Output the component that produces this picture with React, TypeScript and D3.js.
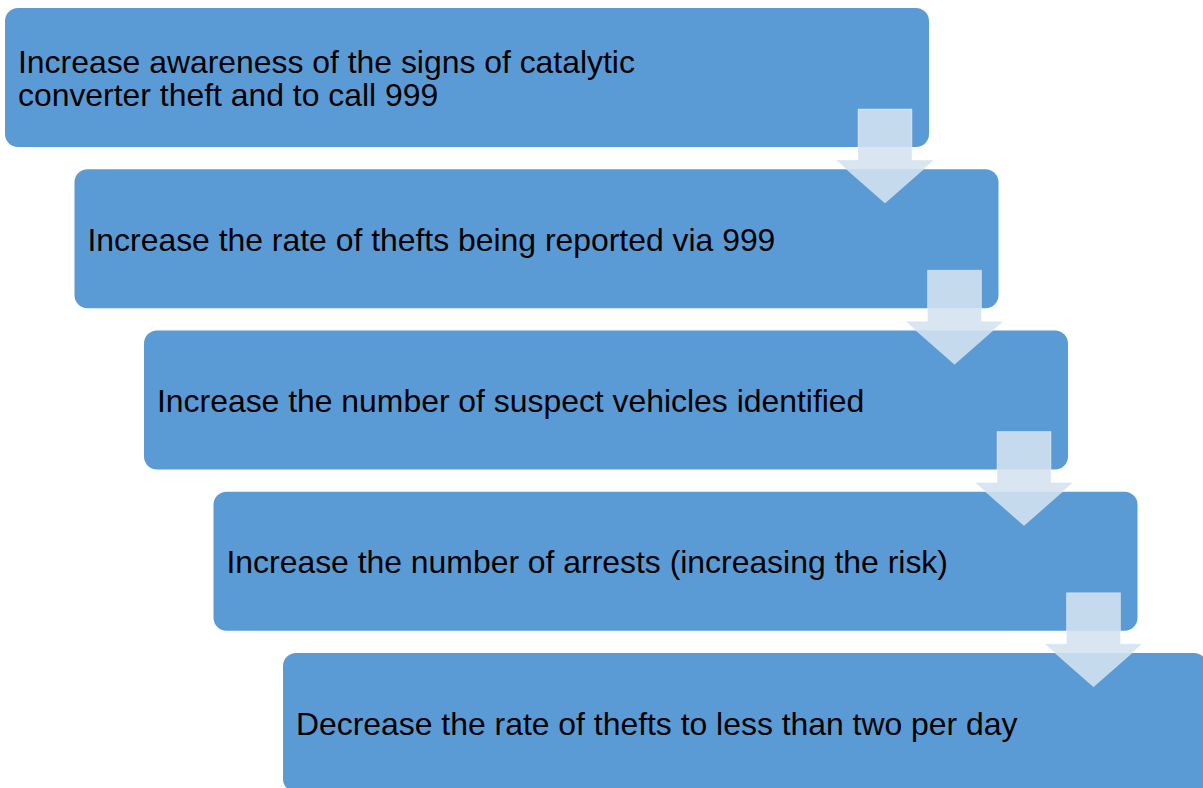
import React from "react";
import * as d3 from "d3";

const WIDTH = 1203;
const HEIGHT = 788;

// one entry per step, each entry holds its text lines
const steps = [
  ["Increase awareness of the signs of catalytic", "converter theft and to call 999"],
  ["Increase the rate of thefts being reported via 999"],
  ["Increase the number of suspect vehicles identified"],
  ["Increase the number of arrests (increasing the risk)"],
  ["Decrease the rate of thefts to less than two per day"],
];

const BOX_W = 924;
const BOX_H = 139;
const RADIUS = 13;
const FONT = 31.9;
const LINE_H = 33.5;

const BOX_FILL = "#5b9bd5";
const ARROW_FILL = "#d4e2f0";

export default function App() {
  const idx = d3.range(steps.length);
  const x = d3.scaleLinear().domain([0, steps.length - 1]).range([5, 283]);
  const y = d3.scaleLinear().domain([0, steps.length - 1]).range([8, 653]);

  const arrowPath = (i: number) => {
    const right = x(i) + BOX_W;
    const bottom = y(i) + BOX_H;
    const cx = right - 44;
    const p = d3.path();
    p.moveTo(cx - 27, bottom - 38);
    p.lineTo(cx + 27, bottom - 38);
    p.lineTo(cx + 27, bottom + 13);
    p.lineTo(cx + 49, bottom + 13);
    p.lineTo(cx, bottom + 56);
    p.lineTo(cx - 49, bottom + 13);
    p.lineTo(cx - 27, bottom + 13);
    p.closePath();
    return p.toString();
  };

  return (
    <svg
      width={WIDTH}
      height={HEIGHT}
      style={{ position: "absolute", left: 0, top: 0, background: "white" }}
      fontFamily="Arial, 'Liberation Sans', sans-serif"
    >
      {idx.map((i) => {
        const lines = steps[i];
        const cy = y(i) + BOX_H / 2;
        const first = cy - ((lines.length - 1) * LINE_H) / 2 + FONT * 0.38;
        return (
          <g key={i}>
            <rect
              x={x(i)}
              y={y(i)}
              width={BOX_W}
              height={BOX_H}
              rx={RADIUS}
              fill={BOX_FILL}
            />
            <text fontSize={FONT} fill="#000">
              {lines.map((l, j) => (
                <tspan key={j} x={x(i) + 13} y={first + j * LINE_H}>
                  {l}
                </tspan>
              ))}
            </text>
          </g>
        );
      })}
      {/* arrows sit over the boxes */}
      {idx.slice(0, -1).map((i) => (
        <path
          key={i}
          d={arrowPath(i)}
          fill={ARROW_FILL}
          fillOpacity={0.88}
          stroke="#ffffff"
          strokeOpacity={0.35}
          strokeWidth={1}
        />
      ))}
    </svg>
  );
}
